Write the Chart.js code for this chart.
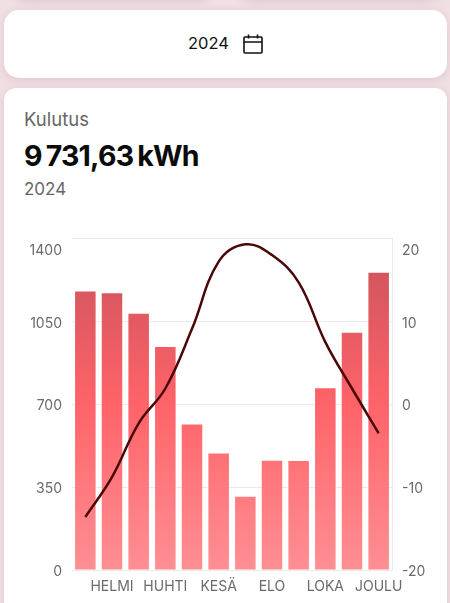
<!DOCTYPE html>
<html lang="fi">
<head>
<meta charset="utf-8">
<title>Kulutus 2024</title>
<script src="https://cdn.jsdelivr.net/npm/chart.js@4"></script>
<style>
  html, body { margin: 0; padding: 0; }
  body { width: 450px; height: 603px; overflow: hidden; position: relative; background: #f0dfe3; font-family: Inter, "Noto Sans", sans-serif; }
  .card { position: absolute; background: #fff; box-shadow: 0 2px 8px rgba(150,100,110,0.18); }
  .stub1 { left: 16px; top: -20px; width: 193px; height: 20px; border-radius: 10px; }
  .stub2 { left: 241px; top: -20px; width: 196px; height: 20px; border-radius: 10px; }
  .year-card { left: 4px; top: 10px; width: 443px; height: 68px; border-radius: 15px; }
  .chart-card { left: 4px; top: 88px; width: 443px; height: 540px; border-radius: 12px; }
  .txt { position: absolute; white-space: nowrap; line-height: 1; }
  .pick { left: 188px; top: 35px; font-size: 16.5px; font-weight: 400; color: #111; }
  .cal { position: absolute; left: 243px; top: 34px; }
  .lab { left: 24px; top: 110px; font-size: 18.5px; color: #666; }
  .total { left: 24px; top: 142px; font-size: 28.5px; font-weight: 700; color: #0b0b0b; letter-spacing: -0.8px; word-spacing: -2px; }
  .sub { left: 24px; top: 181px; font-size: 17px; color: #666; }
  #chart { position: absolute; left: 0; top: 225px; }
</style>
</head>
<body>
<div class="card stub1"></div>
<div class="card stub2"></div>
<div class="card year-card"></div>
<div class="card chart-card"></div>
<div class="txt pick">2024</div>
<svg class="cal" width="20" height="20" viewBox="0 0 20 20" fill="none" stroke="#111" stroke-width="1.6">
  <rect x="1" y="3" width="18" height="16" rx="1"/>
  <path d="M1 8h18M5.5 0.5v4M14.5 0.5v4"/>
</svg>
<div class="txt lab">Kulutus</div>
<div class="txt total">9 731,63 kWh</div>
<div class="txt sub">2024</div>
<canvas id="chart" width="450" height="378"></canvas>
<script>
const months = ['TAMMI', 'HELMI', 'MAALIS', 'HUHTI', 'TOUKO', 'KESÄ', 'HEINÄ', 'ELO', 'SYYS', 'LOKA', 'MARRAS', 'JOULU'];
const consumption = [1176, 1169, 1082, 942, 614, 492, 309, 461, 460, 768, 1002, 1255];
const temperature = [-13.6, -8.8, -2.3, 1.9, 9.1, 17.2, 19.3, 18, 14.7, 7.5, 1.9, -3.5];
const gridColor = '#eeeaeb';
const tickColor = '#6a6a6a';
const tickFont = { family: 'Inter', size: 14, lineHeight: 1.5 };

function barGradient(ctx) {
  const { chartArea } = ctx.chart;
  if (!chartArea) return null;
  const g = ctx.chart.ctx.createLinearGradient(0, chartArea.top, 0, chartArea.bottom);
  g.addColorStop(0, '#c9525c');
  g.addColorStop(0.5, '#ff6369');
  g.addColorStop(1, '#ff8f93');
  return g;
}

// top label sits below its grid line, an empty first line pushes it down
function yLabel(v, max) {
  return v === max ? ['', String(v)] : String(v);
}

new Chart(document.getElementById('chart'), {
  data: {
    labels: months,
    datasets: [
      { type: 'line', data: temperature, yAxisID: 'y1', borderColor: '#4a0808', borderWidth: 2.5, pointRadius: 0, tension: 0.4, order: 0 },
      { type: 'bar', data: consumption, yAxisID: 'y', backgroundColor: barGradient, barPercentage: 0.77, categoryPercentage: 1, order: 1 },
    ],
  },
  options: {
    responsive: false, animation: false,
    layout: { padding: { top: 0, left: 0, right: 0, bottom: 0 } },
    plugins: { legend: { display: false }, tooltip: { enabled: false } },
    scales: {
      x: {
        grid: { display: false }, border: { color: gridColor },
        afterFit: (s) => { s.height = 33; },
        ticks: { autoSkip: false, maxRotation: 0, padding: 0, color: tickColor, font: { family: 'Inter', size: 14 }, callback: (v, i) => i % 2 ? months[i] : '' },
      },
      y: {
        position: 'left', min: 0, max: 1400,
        afterFit: (s) => { s.width = 72; s.paddingTop = 13.5; },
        grid: { color: gridColor, drawTicks: false }, border: { display: false },
        ticks: { stepSize: 350, padding: 10, labelOffset: 2, color: tickColor, font: tickFont, callback: (v) => yLabel(v, 1400) },
      },
      y1: {
        position: 'right', min: -20, max: 20,
        afterFit: (s) => { s.width = 58; s.paddingTop = 13.5; },
        grid: { display: false, drawTicks: false }, border: { color: gridColor },
        ticks: { stepSize: 10, padding: 10, labelOffset: 2, color: tickColor, font: tickFont, callback: (v) => yLabel(v, 20) },
      },
    },
  },
});
</script>
</body>
</html>
